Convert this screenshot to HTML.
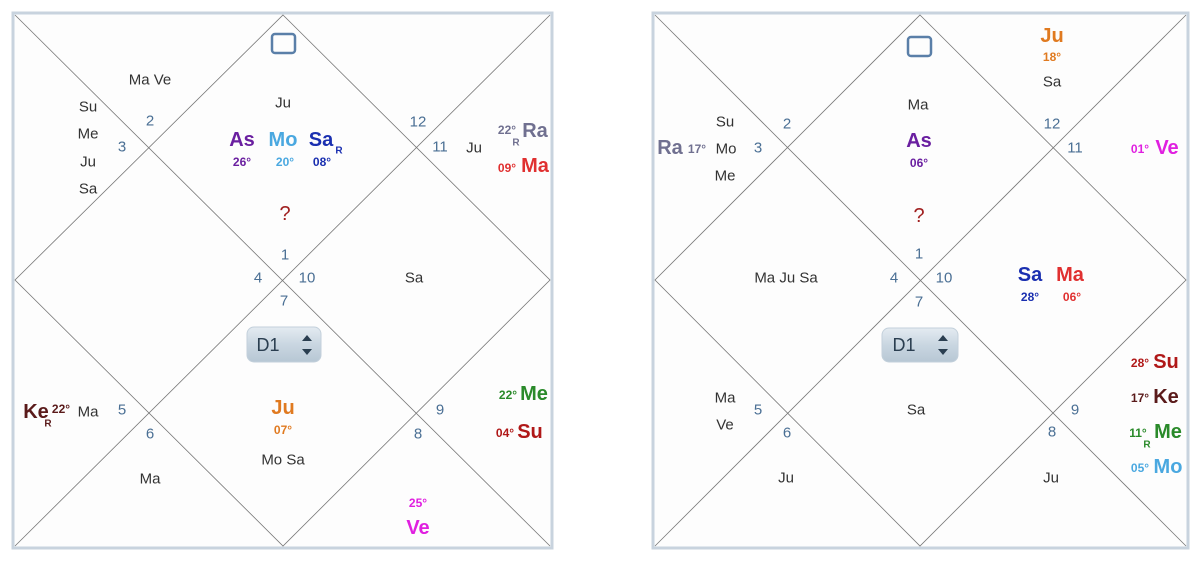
<!DOCTYPE html>
<html><head><meta charset="utf-8"><style>
html,body{margin:0;padding:0;background:#fff;}
svg{display:block}
text{font-family:"Liberation Sans Narrow","Liberation Sans",sans-serif;font-stretch:condensed;text-anchor:middle;dominant-baseline:central}
.n{font-size:15px;fill:#333}
.h{font-size:15px;fill:#4a6f94}
.b{font-size:20px;font-weight:bold}
.d{font-size:12px;font-weight:bold}
.r{font-size:10px;font-weight:bold}
</style></head><body>
<svg width="1200" height="563" viewBox="0 0 1200 563" xmlns="http://www.w3.org/2000/svg">
<defs>
<linearGradient id="g" x1="0" y1="0" x2="0" y2="1"><stop offset="0" stop-color="#e4ebf1"/><stop offset="0.5" stop-color="#c9d6e1"/><stop offset="1" stop-color="#b7c7d4"/></linearGradient>
</defs>
<!-- LEFT CHART -->
<rect x="13" y="13" width="539" height="535" fill="#fdfdfd" stroke="#c8d3de" stroke-width="3"/>
<g stroke="#777" stroke-width="0.8" fill="none">
<line x1="15" y1="15" x2="550" y2="546"/><line x1="550" y1="15" x2="15" y2="546"/>
<polygon points="283,15 550,280 283,546 15,280"/>
</g>
<rect x="272" y="34" width="23" height="19" rx="3" fill="none" stroke="#5a7fa8" stroke-width="2.5"/>
<text class="n" x="150" y="80">Ma Ve</text>
<text class="n" x="88" y="107">Su</text><text class="n" x="88" y="134">Me</text><text class="n" x="88" y="162">Ju</text><text class="n" x="88" y="189">Sa</text>
<text class="h" x="150" y="121">2</text><text class="h" x="122" y="147">3</text>
<text class="n" x="283" y="103">Ju</text>
<text class="b" x="242" y="140" fill="#6a1fa0">As</text><text class="d" x="242" y="162" fill="#6a1fa0">26°</text>
<text class="b" x="283" y="140" fill="#4aa8e0">Mo</text><text class="d" x="285" y="162" fill="#4aa8e0">20°</text>
<text class="b" x="321" y="140" fill="#1a2fb0">Sa</text><text class="r" x="339" y="151" fill="#1a2fb0">R</text><text class="d" x="322" y="162" fill="#1a2fb0">08°</text>
<text x="285" y="214" style="font-size:20px;fill:#a02020">?</text>
<text class="h" x="285" y="255">1</text><text class="h" x="258" y="278">4</text><text class="h" x="307" y="278">10</text><text class="h" x="284" y="301">7</text>
<text class="h" x="418" y="122">12</text><text class="h" x="440" y="147">11</text><text class="n" x="474" y="148">Ju</text>
<text class="d" x="507" y="130" fill="#707090">22°</text><text class="r" x="516" y="143" fill="#707090">R</text><text class="b" x="535" y="131" fill="#707090">Ra</text>
<text class="d" x="507" y="168" fill="#e03030">09°</text><text class="b" x="535" y="166" fill="#e03030">Ma</text>
<text class="n" x="414" y="278">Sa</text>
<rect x="247" y="327" width="74" height="35" rx="7" fill="url(#g)" stroke="#c3d0db"/>
<text x="268" y="345" style="font-size:18px;fill:#2a3e50">D1</text>
<path d="M302,341 L307,335 L312,341 Z M302,349 L307,355 L312,349 Z" fill="#2a3e50"/>
<text class="b" x="36" y="412" fill="#5a1a1a">Ke</text><text class="r" x="48" y="424" fill="#5a1a1a">R</text><text class="d" x="61" y="409" fill="#5a1a1a">22°</text>
<text class="n" x="88" y="412">Ma</text>
<text class="h" x="122" y="410">5</text><text class="h" x="150" y="434">6</text>
<text class="b" x="283" y="408" fill="#e07a20">Ju</text><text class="d" x="283" y="430" fill="#e07a20">07°</text>
<text class="n" x="283" y="460">Mo Sa</text>
<text class="n" x="150" y="479">Ma</text>
<text class="d" x="508" y="395" fill="#2a8a2a">22°</text><text class="b" x="534" y="394" fill="#2a8a2a">Me</text>
<text class="d" x="505" y="433" fill="#b01818">04°</text><text class="b" x="530" y="432" fill="#b01818">Su</text>
<text class="h" x="440" y="410">9</text><text class="h" x="418" y="434">8</text>
<text class="d" x="418" y="503" fill="#e020e0">25°</text><text class="b" x="418" y="528" fill="#e020e0">Ve</text>

<!-- RIGHT CHART -->
<rect x="653" y="13" width="535" height="535" fill="#fdfdfd" stroke="#c8d3de" stroke-width="3"/>
<g stroke="#777" stroke-width="0.8" fill="none">
<line x1="655" y1="15" x2="1186" y2="546"/><line x1="1186" y1="15" x2="655" y2="546"/>
<polygon points="920,15 1186,280 920,546 655,280"/>
</g>
<rect x="908" y="37" width="23" height="19" rx="3" fill="none" stroke="#5a7fa8" stroke-width="2.5"/>
<text class="b" x="1052" y="36" fill="#e07a20">Ju</text><text class="d" x="1052" y="57" fill="#e07a20">18°</text>
<text class="n" x="1052" y="82">Sa</text>
<text class="n" x="918" y="105">Ma</text>
<text class="b" x="919" y="141" fill="#6a1fa0">As</text><text class="d" x="919" y="163" fill="#6a1fa0">06°</text>
<text class="n" x="725" y="122">Su</text>
<text class="b" x="670" y="148" fill="#707090">Ra</text><text class="d" x="697" y="149" fill="#707090">17°</text>
<text class="n" x="726" y="149">Mo</text><text class="n" x="725" y="176">Me</text>
<text class="h" x="787" y="124">2</text><text class="h" x="758" y="148">3</text>
<text class="h" x="1052" y="124">12</text><text class="h" x="1075" y="148">11</text>
<text class="d" x="1140" y="149" fill="#e020e0">01°</text><text class="b" x="1167" y="148" fill="#e020e0">Ve</text>
<text x="919" y="216" style="font-size:20px;fill:#a02020">?</text>
<text class="h" x="919" y="254">1</text><text class="h" x="894" y="278">4</text><text class="h" x="944" y="278">10</text><text class="h" x="919" y="302">7</text>
<text class="n" x="786" y="278">Ma Ju Sa</text>
<text class="b" x="1030" y="275" fill="#1a2fb0">Sa</text><text class="d" x="1030" y="297" fill="#1a2fb0">28°</text>
<text class="b" x="1070" y="275" fill="#e03030">Ma</text><text class="d" x="1072" y="297" fill="#e03030">06°</text>
<rect x="882" y="328" width="76" height="34" rx="7" fill="url(#g)" stroke="#c3d0db"/>
<text x="904" y="345" style="font-size:18px;fill:#2a3e50">D1</text>
<path d="M938,341 L943,335 L948,341 Z M938,349 L943,355 L948,349 Z" fill="#2a3e50"/>
<text class="n" x="725" y="398">Ma</text><text class="n" x="725" y="425">Ve</text>
<text class="h" x="758" y="410">5</text><text class="h" x="787" y="433">6</text>
<text class="n" x="916" y="410">Sa</text>
<text class="n" x="786" y="478">Ju</text><text class="n" x="1051" y="478">Ju</text>
<text class="h" x="1075" y="410">9</text><text class="h" x="1052" y="432">8</text>
<text class="d" x="1140" y="363" fill="#b01818">28°</text><text class="b" x="1166" y="362" fill="#b01818">Su</text>
<text class="d" x="1140" y="398" fill="#5a1a1a">17°</text><text class="b" x="1166" y="397" fill="#5a1a1a">Ke</text>
<text class="d" x="1138" y="433" fill="#2a8a2a">11°</text><text class="r" x="1147" y="445" fill="#2a8a2a">R</text><text class="b" x="1168" y="432" fill="#2a8a2a">Me</text>
<text class="d" x="1140" y="468" fill="#4aa8e0">05°</text><text class="b" x="1168" y="467" fill="#4aa8e0">Mo</text>
</svg>
</body></html>
